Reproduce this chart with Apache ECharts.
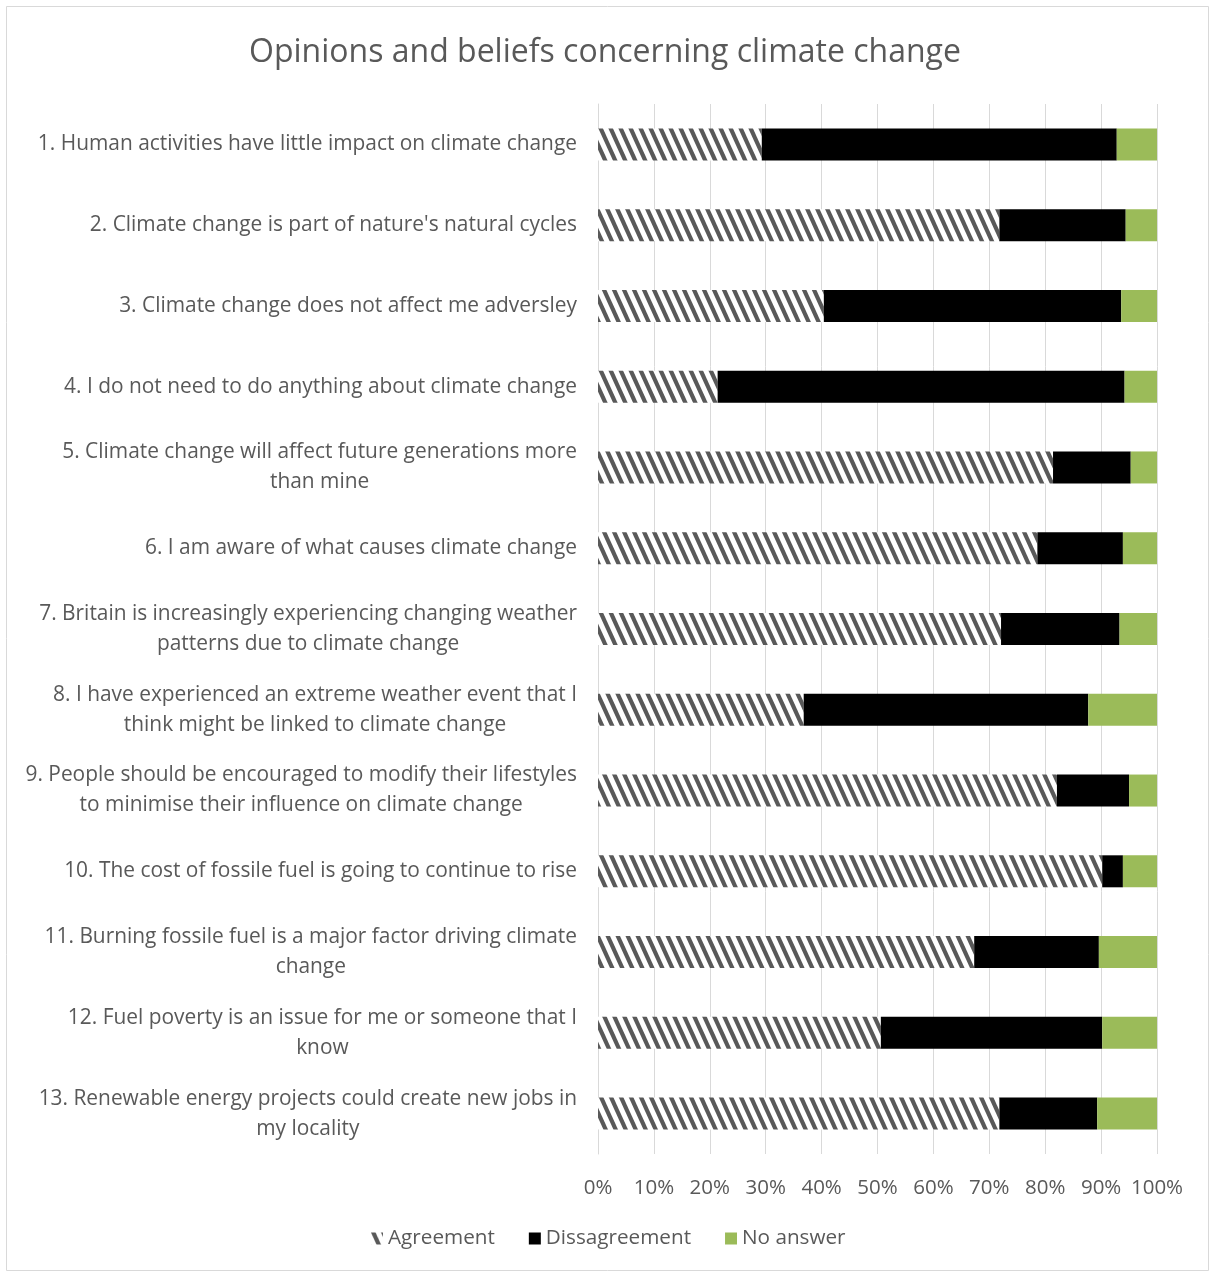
<!DOCTYPE html>
<html>
<head>
<meta charset="utf-8">
<script src="https://cdn.jsdelivr.net/npm/echarts@6/dist/echarts.min.js"></script>
<style>
html,body{margin:0;padding:0;background:#fff;}
#chart{width:1210px;height:1273px;}
</style>
</head>
<body>
<div id="chart"></div>
<script>
const categories = [
  "1. Human activities have little impact on climate change",
  "2. Climate change is part of nature's natural cycles",
  "3. Climate change does not affect me adversley",
  "4. I do not need to do anything about climate change",
  "5. Climate change will affect future generations more\nthan mine",
  "6. I am aware of what causes climate change",
  "7. Britain is increasingly experiencing changing weather\npatterns due to climate change",
  "8. I have experienced an extreme weather event that I\nthink might be linked to climate change",
  "9. People should be encouraged to modify their lifestyles\nto minimise their influence on climate change",
  "10. The cost of fossile fuel is going to continue to rise",
  "11. Burning fossile fuel is a major factor driving climate\nchange",
  "12. Fuel poverty is an issue for me or someone that I\nknow",
  "13. Renewable energy projects could create new jobs in\nmy locality"
];
const agreement     = [29.3, 71.8, 40.4, 21.4, 81.4, 78.6, 72.1, 36.8, 82.1, 90.2, 67.3, 50.6, 71.8];
const disagreement  = [63.5, 22.6, 53.2, 72.8, 13.9, 15.3, 21.2, 50.9, 12.9,  3.7, 22.3, 39.6, 17.5];
const noAnswer      = [ 7.2,  5.6,  6.4,  5.8,  4.7,  6.1,  6.7, 12.3,  5.0,  6.1, 10.4,  9.8, 10.7];
const seriesNames = ["Agreement", "Dissagreement", "No answer"];
const tickLabels = ["0%","10%","20%","30%","40%","50%","60%","70%","80%","90%","100%"];

function makeHatch() {
  const w = 10, h = 22, sw = 4.6;
  const c = document.createElement('canvas');
  c.width = w; c.height = h;
  const ctx = c.getContext('2d');
  ctx.fillStyle = '#ffffff';
  ctx.fillRect(0, 0, w, h);
  ctx.fillStyle = '#595959';
  for (let k = -2; k <= 1; k++) {
    const o = k * w;
    ctx.beginPath();
    ctx.moveTo(o, 0);
    ctx.lineTo(o + sw, 0);
    ctx.lineTo(o + sw + w, h);
    ctx.lineTo(o + w, h);
    ctx.closePath();
    ctx.fill();
  }
  return c;
}
const hatch = makeHatch();

const FONT = '"Open Sans", "Noto Sans", sans-serif';
const TXT = '#595959';

const chart = echarts.init(document.getElementById('chart'), null, {renderer: 'canvas'});
chart.setOption({
  animation: false,
  backgroundColor: '#ffffff',
  textStyle: {fontFamily: FONT},
  graphic: [{
    type: 'rect',
    shape: {x: 6.5, y: 6.5, width: 1202, height: 1264},
    style: {fill: 'none', stroke: '#d9d9d9', lineWidth: 1},
    silent: true
  }],
  title: {
    text: 'Opinions and beliefs concerning climate change',
    left: 'center',
    top: 32,
    textStyle: {fontFamily: FONT, fontSize: 32, fontWeight: 'normal', color: TXT}
  },
  legend: {
    bottom: 19,
    left: 366,
    itemWidth: 12,
    itemHeight: 12,
    itemGap: 34,
    icon: 'rect',
    data: seriesNames,
    textStyle: {fontFamily: FONT, fontSize: 20.7, color: TXT}
  },
  grid: {left: 598, right: 53, top: 104, bottom: 119, containLabel: false},
  xAxis: {
    type: 'value',
    min: 0,
    max: 100,
    interval: 10,
    axisLine: {show: false},
    axisTick: {show: false},
    axisLabel: {
      margin: 24,
      fontFamily: FONT,
      fontSize: 20.5,
      color: TXT,
      formatter: function (v) { return tickLabels[Math.round(v / 10)]; }
    },
    splitLine: {show: true, lineStyle: {color: '#d9d9d9', width: 1}}
  },
  yAxis: {
    type: 'category',
    inverse: true,
    data: categories,
    axisLine: {show: true, lineStyle: {color: '#d9d9d9'}},
    axisTick: {show: false},
    axisLabel: {
      margin: 21,
      formatter: function (v) {
        return v.split('\n').map(function (s) { return '{a|' + s + '}'; }).join('\n');
      },
      rich: {
        a: {align: 'center', fontFamily: FONT, fontSize: 20.9, color: TXT, lineHeight: 30}
      }
    }
  },
  series: [
    {
      name: seriesNames[0], type: 'bar', stack: 'total', barWidth: 32,
      itemStyle: {color: {image: hatch, repeat: 'repeat'}},
      data: agreement
    },
    {
      name: seriesNames[1], type: 'bar', stack: 'total', barWidth: 32,
      itemStyle: {color: '#000000'},
      data: disagreement
    },
    {
      name: seriesNames[2], type: 'bar', stack: 'total', barWidth: 32,
      itemStyle: {color: '#9bbb59'},
      data: noAnswer
    }
  ]
});
</script>
</body>
</html>
